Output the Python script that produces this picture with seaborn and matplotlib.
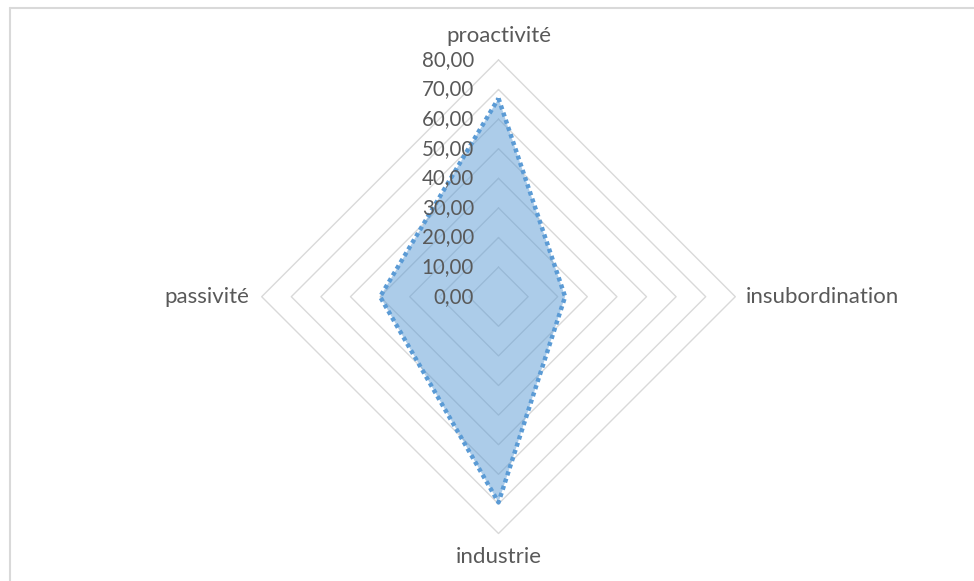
import numpy as np
import pandas as pd
import matplotlib
matplotlib.use("Agg")
import matplotlib.pyplot as plt
from matplotlib.lines import Line2D
import seaborn as sns

# data
categories = ["proactivité", "insubordination", "industrie", "passivité"]
values = [67.0, 22.5, 69.5, 40.0]
levels = [0, 10, 20, 30, 40, 50, 60, 70, 80]
level_labels = ["0,00", "10,00", "20,00", "30,00", "40,00", "50,00", "60,00", "70,00", "80,00"]

sns.set_style("white")
plt.rcParams['font.family'] = ['Lato', 'DejaVu Sans']

txt = '#595959'
grid_c = '#D9D9D9'
blue = '#5B9BD5'

# directions for each spoke: up, right, down, left
dirs = np.array([[0, 1], [1, 0], [0, -1], [-1, 0]])

fig = plt.figure(figsize=(9.74, 5.81), dpi=100)
ax = fig.add_axes([0, 0, 1, 1])
scale = 2.96  # px per unit
cx, cy = 498.5, 296.7
ax.axis('off')

# grid diamonds
for lv in levels[1:]:
    pts = np.vstack([dirs * lv, dirs[:1] * lv])
    ax.plot(pts[:, 0], pts[:, 1], color=grid_c, lw=1.0, zorder=1)

# series polygon
v = np.array(values)
xs = dirs[:, 0] * v
ys = dirs[:, 1] * v
df = pd.DataFrame({'x': np.append(xs, xs[0]), 'y': np.append(ys, ys[0])})
ax.fill(xs, ys, color=blue, alpha=0.5, lw=0, zorder=2)
sns.lineplot(data=df, x='x', y='y', sort=False, estimator=None, ax=ax,
             color=blue, lw=3.2, linestyle=(0, (0.9, 0.8)), zorder=3)
ax.lines[-1].set_dash_capstyle('butt')
ax.set_xlabel('')
ax.set_ylabel('')
ax.set_xlim(-cx / scale, (974 - cx) / scale)
ax.set_ylim(-(581 - cy) / scale, cy / scale)

# value labels
for lv, lab in zip(levels, level_labels):
    ax.text(-8.3, lv, lab, ha='right', va='center', color=txt, fontsize=14.8, zorder=4)

# category labels
fs = 16
off = 8.0
ax.text(0, 80 + off, categories[0], ha='center', va='center', color=txt, fontsize=fs)
ax.text(80 + 3.4, 0, categories[1], ha='left', va='center', color=txt, fontsize=fs)
ax.text(0, -80 - off, categories[2], ha='center', va='center', color=txt, fontsize=fs)
ax.text(-80 - 4.2, 0, categories[3], ha='right', va='center', color=txt, fontsize=fs)

# chart border (only top and left visible)
fig.add_artist(Line2D([9.5 / 974, 1], [1 - 7.5 / 581] * 2, color=grid_c, lw=1.5))
fig.add_artist(Line2D([9.5 / 974] * 2, [0, 1 - 7.5 / 581], color=grid_c, lw=1.5))

fig.savefig('out.png', dpi=100)
